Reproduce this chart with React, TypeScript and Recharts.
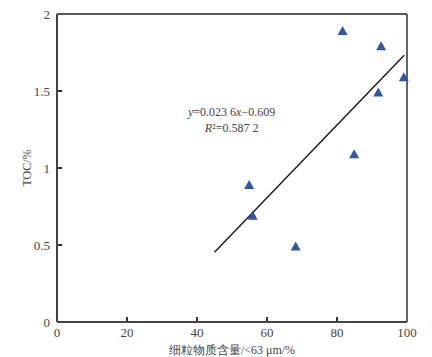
import React from 'react'
import {
  ScatterChart,
  Scatter,
  XAxis,
  YAxis,
  ReferenceLine,
} from 'recharts'

// fine-grain content (%) vs TOC (%)
const fineContent = [81.6, 92.6, 99.1, 91.8, 84.9, 54.9, 55.9, 68.2]
const tocValues = [1.89, 1.79, 1.59, 1.49, 1.09, 0.89, 0.69, 0.49]

const xTicks = [0, 20, 40, 60, 80, 100]
const yTicks = [0, 0.5, 1, 1.5, 2]

// fitted line endpoints (y = 0.0236x - 0.609)
const fitX = [45, 99.2]
const fitY = [0.453, 1.732]

const points = fineContent.map((x, i) => ({ x, y: tocValues[i] }))

const SERIF = '"Liberation Serif", "Times New Roman", serif'
const INK = '#444'
// inward tick length in data units (~5px)
const X_TICK_LEN = 0.033
const Y_TICK_LEN = 1.5

const Triangle = (props: any) => {
  const { cx, cy } = props
  if (cx == null || cy == null) return null
  return (
    <polygon
      points={`${cx},${cy - 5} ${cx - 5},${cy + 4} ${cx + 5},${cy + 4}`}
      fill="#2d55a8"
    />
  )
}

export default function App() {
  const innerX = xTicks.filter((t) => t !== 0 && t !== 100)
  const innerY = yTicks.filter((t) => t !== 0 && t !== 2)
  return (
    <div style={{ position: 'fixed', left: 0, top: 0, width: 432, height: 357, background: '#fff' }}>
      <ScatterChart
        width={432}
        height={357}
        margin={{ top: 14, right: 25, left: 0, bottom: 0 }}
      >
        <XAxis
          type="number"
          dataKey="x"
          domain={[0, 100]}
          ticks={xTicks}
          height={35}
          tickSize={0}
          tickMargin={6}
          tickLine={false}
          axisLine={{ stroke: INK, strokeWidth: 2 }}
          tick={{ fill: INK, fontSize: 13, fontFamily: SERIF }}
          label={{
            value: '细粒物质含量/<63 μm/%',
            position: 'insideBottom',
            offset: 3,
            fill: INK,
            fontSize: 12,
            fontFamily: SERIF,
          }}
        />
        <YAxis
          type="number"
          dataKey="y"
          domain={[0, 2]}
          ticks={yTicks}
          width={57}
          tickSize={0}
          tickMargin={7}
          tickLine={false}
          axisLine={{ stroke: INK, strokeWidth: 2 }}
          tick={{ fill: INK, fontSize: 13, fontFamily: SERIF }}
          label={{
            value: 'TOC/%',
            angle: -90,
            position: 'insideLeft',
            offset: 27,
            fill: INK,
            fontSize: 12,
            fontFamily: SERIF,
            style: { textAnchor: 'middle' },
          }}
        />
        <ReferenceLine y={2} stroke="#222" strokeWidth={1.5} />
        <ReferenceLine x={100} stroke="#333" strokeWidth={1.5} />
        {innerX.map((t) => (
          <ReferenceLine
            key={`xt${t}`}
            segment={[{ x: t, y: 0 }, { x: t, y: X_TICK_LEN }]}
            stroke="#333"
            strokeWidth={2}
          />
        ))}
        {innerY.map((t) => (
          <ReferenceLine
            key={`yt${t}`}
            segment={[{ x: 0, y: t }, { x: Y_TICK_LEN, y: t }]}
            stroke="#333"
            strokeWidth={2}
          />
        ))}
        <ReferenceLine
          segment={[
            { x: fitX[0], y: fitY[0] },
            { x: fitX[1], y: fitY[1] },
          ]}
          stroke="#111"
          strokeWidth={1.3}
          ifOverflow="visible"
        />
        <Scatter data={points} shape={<Triangle />} isAnimationActive={false} />
      </ScatterChart>
      <div
        style={{
          position: 'absolute',
          left: 188,
          top: 104,
          fontFamily: SERIF,
          fontSize: 12,
          color: INK,
          lineHeight: '16px',
          whiteSpace: 'nowrap',
          textAlign: 'center',
        }}
      >
        <div>
          <i>y</i>=0.023 6<i>x</i>−0.609
        </div>
        <div>
          <i>R</i>²=0.587 2
        </div>
      </div>
    </div>
  )
}
